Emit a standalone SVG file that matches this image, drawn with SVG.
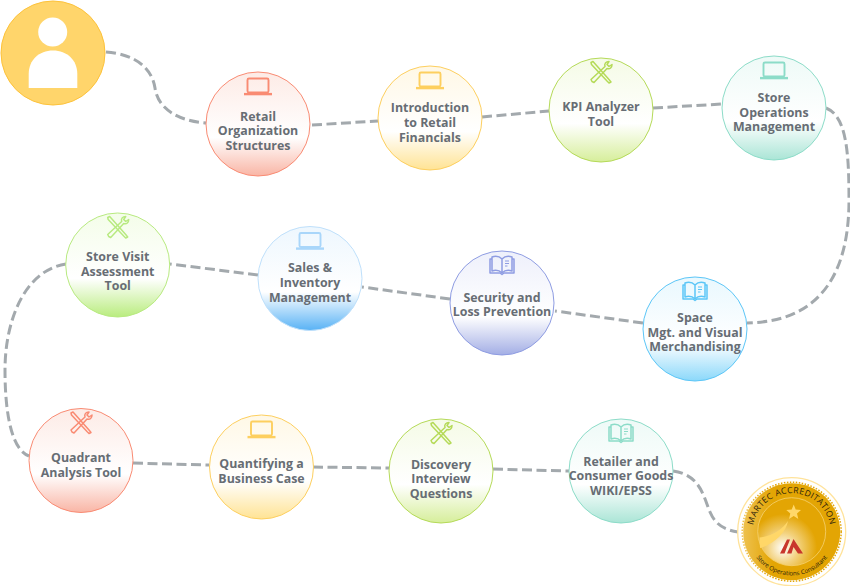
<svg xmlns="http://www.w3.org/2000/svg" width="850" height="586" viewBox="0 0 850 586">
<style>
text{font-family:"Open Sans","Liberation Sans",sans-serif;font-weight:700;font-size:12.4px;fill:#676d74;text-anchor:middle}
.conn path{fill:none;stroke:#a3a9ad;stroke-width:3;stroke-dasharray:10 4.5}
.ic{fill:none;stroke:currentColor;stroke-width:1.5}
.n{stroke-width:1}
.red{color:#f98b73;stroke:#f98b73}.yel{color:#fdcf5f;stroke:#fdcf5f}.grn{color:#b5da58;stroke:#b5da58}.tea{color:#8cdcc8;stroke:#8cdcc8}
.sky{color:#5cc6f7;stroke:#5cc6f7}.vio{color:#8e9ce2;stroke:#8e9ce2}.blu{color:#a9d6fa;stroke:#bfe0fb}.lim{color:#b8ea80;stroke:#b8ea80}
.ico{stroke:none}
.badge text{fill:#2b210b;font-weight:400}
</style>
<defs>
<linearGradient id="gr" x1="0" y1="0" x2="0" y2="1"><stop offset="0" stop-color="#fdebe6"/><stop offset=".63" stop-color="#fff"/><stop offset="1" stop-color="#f9b5a5"/></linearGradient>
<linearGradient id="gy" x1="0" y1="0" x2="0" y2="1"><stop offset="0" stop-color="#fff8e6"/><stop offset=".63" stop-color="#fff"/><stop offset="1" stop-color="#ffe394"/></linearGradient>
<linearGradient id="gg" x1="0" y1="0" x2="0" y2="1"><stop offset="0" stop-color="#f5fbe6"/><stop offset=".63" stop-color="#fff"/><stop offset="1" stop-color="#d6ee9a"/></linearGradient>
<linearGradient id="gt" x1="0" y1="0" x2="0" y2="1"><stop offset="0" stop-color="#eefaf7"/><stop offset=".63" stop-color="#fff"/><stop offset="1" stop-color="#aae5d6"/></linearGradient>
<linearGradient id="gs" x1="0" y1="0" x2="0" y2="1"><stop offset="0" stop-color="#e9f8fe"/><stop offset=".63" stop-color="#fff"/><stop offset="1" stop-color="#8bd8fa"/></linearGradient>
<linearGradient id="gv" x1="0" y1="0" x2="0" y2="1"><stop offset="0" stop-color="#eef0fb"/><stop offset=".63" stop-color="#fff"/><stop offset="1" stop-color="#a3aee5"/></linearGradient>
<linearGradient id="gb" x1="0" y1="0" x2="0" y2="1"><stop offset="0" stop-color="#eef7fe"/><stop offset=".63" stop-color="#fff"/><stop offset="1" stop-color="#58b2f5"/></linearGradient>
<linearGradient id="gl" x1="0" y1="0" x2="0" y2="1"><stop offset="0" stop-color="#f4fde9"/><stop offset=".63" stop-color="#fff"/><stop offset="1" stop-color="#b9ec7e"/></linearGradient>
<radialGradient id="gm" gradientUnits="userSpaceOnUse" cx="783" cy="548" r="34"><stop offset="0" stop-color="#fff"/><stop offset=".45" stop-color="#f3d27e"/><stop offset="1" stop-color="#e3a504"/></radialGradient>
<linearGradient id="go" x1="0" y1="0" x2="1" y2="0"><stop offset="0" stop-color="#eec14e"/><stop offset=".3" stop-color="#e3a504"/><stop offset="1" stop-color="#e3a504"/></linearGradient>
<g id="laptop" class="ic"><rect x="-10.500" y="-8" width="21" height="14" rx="1.500" stroke-width="1.900"/><path d="M-14 7.600H14" stroke-width="2.400"/></g>
<g id="tools" class="ic" stroke-linecap="round" stroke-linejoin="round"><path d="M-10-10L-8-11L8 7L10 9.500L8 10.500L6 8.500L-9.500-8Z"/><path d="M-9 9L-10 7L4-6C3-9 5-11 8-11L6-8L8-6L11-8C11-5 9-3 6-4L-7 10Z"/></g>
<g id="book" class="ic" stroke-linejoin="round"><path d="M0-6C-3-9-7-9-10-8V6C-7 5-3 5 0 8C3 5 7 5 10 6V-8C7-9 3-9 0-6V8"/><path d="M-10-6H-12V8H-2L0 9.500L2 8H12V-6H10"/><path d="M3-4H7M3-1.500H7M3 1H5.500" stroke-width="1"/></g>
<path id="arcTop" d="M753.500 540A39 39 0 1 1 829.900 540"/>
<path id="arcBot" d="M750.400 546.700A44 44 0 0 0 833 546.700"/>
</defs>
<g class="conn" id="connectors">
<path d="M106 52C135 54 152 68 155 88C158 110 180 121 206 123"/>
<path d="M312 125L378 121"/>
<path d="M482 117L549 111"/>
<path d="M653 108L722 104"/>
<path d="M826 108C846 116 849 150 849 200C849 280 815 322 747 323"/>
<path d="M643 323L555 311"/>
<path d="M450 299L362 287"/>
<path d="M258 275L170 264"/>
<path d="M66 264C25 270 5 320 5 370C5 415 12 450 29 456"/>
<path d="M133 463L209 465"/>
<path d="M313 467L389 468"/>
<path d="M493 469L569 471"/>
<path d="M673 471C700 475 703 495 710 512C716 526 726 530 738 532"/>
</g>
<g id="start"><circle cx="53" cy="53" r="52" fill="#ffd56b" stroke="#fdc23a" stroke-width="1"/><circle cx="52.700" cy="32" r="14.500" fill="#fff"/><path d="M28.700 88V74C28.700 60 39 50.500 53 50.500C67 50.500 77.300 60 77.300 74V88Z" fill="#fff"/></g>
<g id="n1"><circle class="n red" cx="258" cy="124" r="52" fill="url(#gr)"/><use href="#laptop" class="red ico" x="258" y="86.500"/><text x="258" y="120.500">Retail</text><text x="258" y="135.300">Organization</text><text x="258" y="150">Structures</text></g>
<g id="n2"><circle class="n yel" cx="430" cy="118" r="52" fill="url(#gy)"/><use href="#laptop" class="yel ico" x="430" y="80.500"/><text x="430" y="112">Introduction</text><text x="430" y="127">to Retail</text><text x="430" y="141.500">Financials</text></g>
<g id="n3"><circle class="n grn" cx="601" cy="110" r="52" fill="url(#gg)"/><use href="#tools" class="grn ico" x="601" y="72.500"/><text x="601" y="111">KPI Analyzer</text><text x="601" y="126">Tool</text></g>
<g id="n4"><circle class="n tea" cx="774" cy="108" r="52" fill="url(#gt)"/><use href="#laptop" class="tea ico" x="774" y="70.500"/><text x="774" y="102">Store</text><text x="774" y="116.500">Operations</text><text x="774" y="131">Management</text></g>
<g id="n5"><circle class="n sky" cx="695" cy="329" r="52" fill="url(#gs)"/><use href="#book" class="sky ico" x="695" y="291"/><text x="695" y="321.700">Space</text><text x="695" y="336.500">Mgt. and Visual</text><text x="695" y="351">Merchandising</text></g>
<g id="n6"><circle class="n vio" cx="502" cy="303" r="52" fill="url(#gv)"/><use href="#book" class="vio ico" x="502" y="265"/><text x="502" y="301.500">Security and</text><text x="502" y="316.300">Loss Prevention</text></g>
<g id="n7"><circle class="n blu" cx="310" cy="278.500" r="52" fill="url(#gb)"/><use href="#laptop" class="blu ico" x="310" y="241"/><text x="310" y="272">Sales &amp;</text><text x="310" y="286.700">Inventory</text><text x="310" y="301.500">Management</text></g>
<g id="n8"><circle class="n lim" cx="117.700" cy="265" r="52" fill="url(#gl)"/><use href="#tools" class="lim ico" x="117.700" y="227.500"/><text x="117.700" y="260.700">Store Visit</text><text x="117.700" y="275.500">Assessment</text><text x="117.700" y="290">Tool</text></g>
<g id="n9"><circle class="n red" cx="81" cy="460.500" r="52" fill="url(#gr)"/><use href="#tools" class="red ico" x="81" y="423"/><text x="81" y="461.700">Quadrant</text><text x="81" y="476.700">Analysis Tool</text></g>
<g id="n10"><circle class="n yel" cx="261.500" cy="467" r="52" fill="url(#gy)"/><use href="#laptop" class="yel ico" x="261.500" y="429.500"/><text x="261.500" y="468">Quantifying a</text><text x="261.500" y="483">Business Case</text></g>
<g id="n11"><circle class="n grn" cx="441" cy="471" r="52" fill="url(#gg)"/><use href="#tools" class="grn ico" x="441" y="433.500"/><text x="441" y="468.500">Discovery</text><text x="441" y="483.300">Interview</text><text x="441" y="498">Questions</text></g>
<g id="n12"><circle class="n tea" cx="621" cy="471" r="52" fill="url(#gt)"/><use href="#book" class="tea ico" x="621" y="433"/><text x="621" y="465.500">Retailer and</text><text x="621" y="480">Consumer Goods</text><text x="621" y="495">WIKI/EPSS</text></g>
<g id="badge" class="badge">
<circle cx="791.700" cy="531.700" r="54" fill="#fff" stroke="#ffe39b" stroke-width="1.300"/>
<circle cx="791.700" cy="531.700" r="48.500" fill="url(#go)"/>
<circle cx="791.700" cy="531.700" r="49.500" fill="none" stroke="url(#go)" stroke-width="1.500" stroke-dasharray="1.500 1.500"/>
<circle cx="791.700" cy="531.700" r="34" fill="url(#gm)" stroke="#f5d272" stroke-width=".8"/>
<path d="M788 521C786 532 775 544 760 548L759.500 537.500C772 536 782 530 788 521Z" fill="#ffd768"/>
<path d="M793.700 504.500L795.700 509.500L801 510L797 513.500L798.300 519L793.700 516L789 519L790.300 513.500L786.300 510L791.700 509.500Z" fill="#ffd768"/>
<path d="M780 553.500L787 539.500L790 539.500L784.500 553.500ZM787 553.500L793.500 539L803 553.500H798L793.500 547L791.500 553.500Z" fill="#c8372c"/>
<text style="font-size:8.600px;letter-spacing:.35px"><textPath href="#arcTop" startOffset="50%">MARTEC ACCREDITATION</textPath></text>
<text style="font-size:6.200px"><textPath href="#arcBot" startOffset="50%">Store Operations Consultant</textPath></text>
</g>
</svg>
